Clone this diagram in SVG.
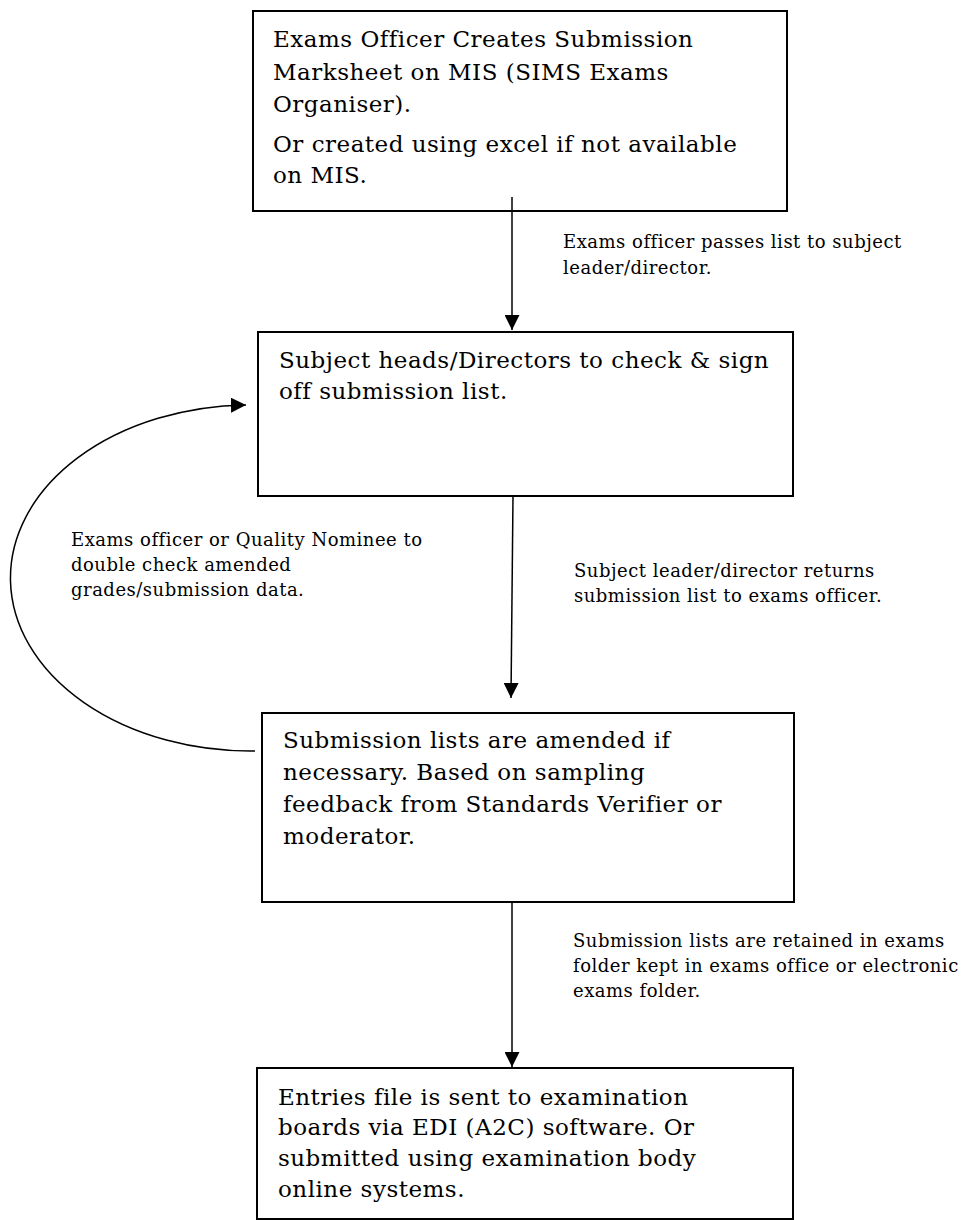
<svg xmlns="http://www.w3.org/2000/svg" width="968" height="1220" viewBox="0 0 968 1220">
<style>
.box{fill:#fff;stroke:#000;stroke-width:2}
.big{font-family:"DejaVu Serif","Liberation Serif",serif;font-size:23px;letter-spacing:0.5px;fill:#000}
.small{font-family:"DejaVu Serif","Liberation Serif",serif;font-size:18px;letter-spacing:0.5px;fill:#000}
.conn{fill:none;stroke:#000;stroke-width:1.5}
</style>
<defs>
<marker id="arr" viewBox="0 0 15 15" refX="15" refY="7.5" markerWidth="15" markerHeight="15" markerUnits="userSpaceOnUse" orient="auto">
<path d="M0,0 L15,7.5 L0,15 Z" fill="#000"/>
</marker>
</defs>
<rect width="968" height="1220" fill="#fff"/>
<g id="n1">
<rect class="box" x="253" y="11" width="534" height="200"/>
<text class="big"><tspan x="273" y="47">Exams Officer Creates Submission</tspan><tspan x="273" y="80">Marksheet on MIS (SIMS Exams</tspan><tspan x="273" y="112">Organiser).</tspan><tspan x="273" y="152">Or created using excel if not available</tspan><tspan x="273" y="183">on MIS.</tspan></text>
</g>
<g id="n2">
<rect class="box" x="258" y="332" width="535" height="164"/>
<text class="big"><tspan x="279" y="368">Subject heads/Directors to check &amp; sign</tspan><tspan x="279" y="399">off submission list.</tspan></text>
</g>
<g id="n3">
<rect class="box" x="262" y="713" width="532" height="189"/>
<text class="big"><tspan x="283" y="748">Submission lists are amended if</tspan><tspan x="283" y="780">necessary. Based on sampling</tspan><tspan x="283" y="812">feedback from Standards Verifier or</tspan><tspan x="283" y="844">moderator.</tspan></text>
</g>
<g id="n4">
<rect class="box" x="257" y="1068" width="536" height="151"/>
<text class="big"><tspan x="278" y="1105">Entries file is sent to examination</tspan><tspan x="278" y="1135">boards via EDI (A2C) software. Or</tspan><tspan x="278" y="1166">submitted using examination body</tspan><tspan x="278" y="1197">online systems.</tspan></text>
</g>
<g id="connectors">
<line class="conn" x1="512" y1="197" x2="512" y2="330" marker-end="url(#arr)"/>
<line class="conn" x1="513" y1="496" x2="511" y2="698" marker-end="url(#arr)"/>
<line class="conn" x1="512" y1="902" x2="512" y2="1067" marker-end="url(#arr)"/>
<path class="conn" d="M255,751 A240,173 0 0 1 246,405" marker-end="url(#arr)"/>
<text class="small"><tspan x="563" y="248">Exams officer passes list to subject</tspan><tspan x="563" y="274">leader/director.</tspan></text>
<text class="small"><tspan x="574" y="577">Subject leader/director returns</tspan><tspan x="574" y="602">submission list to exams officer.</tspan></text>
<text class="small"><tspan x="71" y="546">Exams officer or Quality Nominee to</tspan><tspan x="71" y="571">double check amended</tspan><tspan x="71" y="596">grades/submission data.</tspan></text>
<text class="small"><tspan x="573" y="947">Submission lists are retained in exams</tspan><tspan x="573" y="972">folder kept in exams office or electronic</tspan><tspan x="573" y="997">exams folder.</tspan></text>
</g>
</svg>
